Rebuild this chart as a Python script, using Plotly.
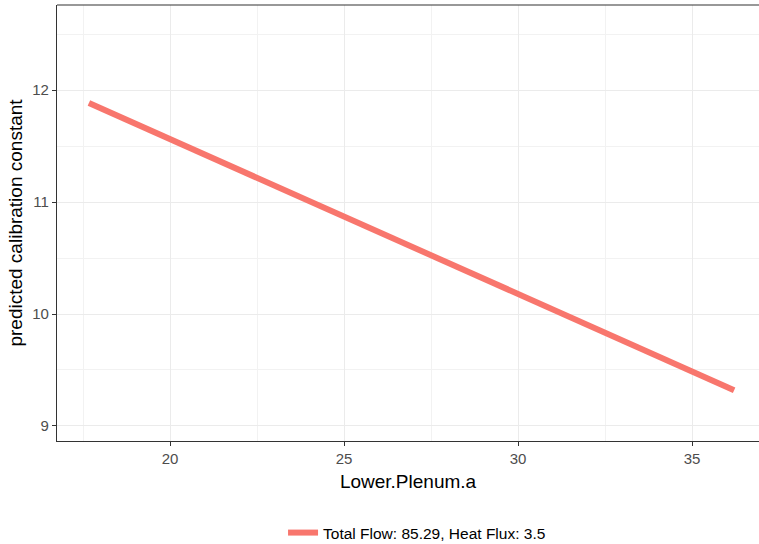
import plotly.graph_objects as go

lower_plenum_a = [17.67, 36.21]
predicted_k = [11.884, 9.32]
series_name = "Total Flow: 85.29, Heat Flux: 3.5"
x_ticks = [20, 25, 30, 35]
y_ticks = [9, 10, 11, 12]

fig = go.Figure()
fig.add_trace(go.Scatter(
    x=lower_plenum_a, y=predicted_k, mode="lines", name=series_name,
    line=dict(color="#F8766D", width=6), showlegend=True,
))

axis_common = dict(
    showgrid=True, gridcolor="#EBEBEB", gridwidth=1.1,
    zeroline=False, ticks="outside", ticklen=4, tickcolor="#333333", tickwidth=1.1,
    tickfont=dict(family="Liberation Sans, Arial", size=15, color="#4D4D4D"),
    showline=True, linecolor="#333333", linewidth=1.1,
)

fig.update_layout(
    width=759, height=544,
    margin=dict(l=57, r=0, t=5, b=103),
    plot_bgcolor="white", paper_bgcolor="white",
    font=dict(family="Liberation Sans, Arial", color="black"),
    xaxis=dict(
        range=[16.753, 36.925], tickvals=x_ticks,
        minor=dict(tickvals=[17.5, 22.5, 27.5, 32.5], showgrid=True, gridcolor="#F2F2F2", gridwidth=0.6, ticks=""),
        title=dict(text="Lower.Plenum.a", font=dict(size=19, color="black"), standoff=8),
        **axis_common,
    ),
    yaxis=dict(
        range=[8.866, 12.759], tickvals=y_ticks,
        minor=dict(tickvals=[9.5, 10.5, 11.5, 12.5], showgrid=True, gridcolor="#F2F2F2", gridwidth=0.6, ticks=""),
        title=dict(text="predicted calibration constant", font=dict(size=19, color="black"), standoff=4),
        **axis_common,
    ),
    legend=dict(
        orientation="h", x=0.322, xanchor="left", yref="container", y=0.0202, yanchor="middle",
        font=dict(size=15.5, color="black"), bgcolor="rgba(0,0,0,0)",
    ),
)
fig.add_shape(type="line", xref="paper", yref="paper", x0=0, x1=1, y0=1, y1=1,
              line=dict(color="#333333", width=1.1))
fig.write_html("out.html")
